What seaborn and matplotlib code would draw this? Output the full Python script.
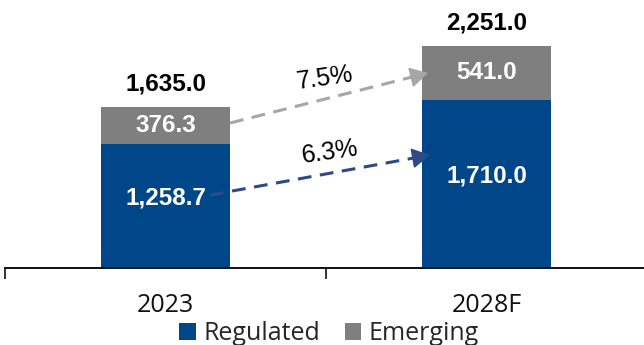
import matplotlib
matplotlib.use("Agg")
import matplotlib.pyplot as plt
import seaborn as sns
import pandas as pd
from matplotlib.patches import Patch

# Market size by segment
years = ["2023", "2028F"]
regulated = [1258.7, 1710.0]
emerging = [376.3, 541.0]
totals = [1635.0, 2251.0]
cagr_labels = ["7.5%", "6.3%"]
legend_labels = ["Regulated", "Emerging"]

BLUE = "#00478A"
GREY = "#7F7F7F"
GREY_ARROW = "#A6A6A6"
BLUE_ARROW = "#2E4A86"

sns.set_style("white")
plt.rcParams["font.family"] = ["Liberation Sans", "DejaVu Sans"]

df = pd.DataFrame({"year": years, "regulated": regulated,
                   "emerging": emerging, "total": totals})

fig = plt.figure(figsize=(6.44, 3.45), dpi=100)
ax = fig.add_axes([5 / 644, 77 / 345, 642 / 644, 268 / 345])

# Stacked bars: full total in grey, regulated share in blue on top of it
sns.barplot(data=df, x="year", y="total", order=years, color=GREY,
            width=0.40, saturation=1, linewidth=0, edgecolor="none", ax=ax)
sns.barplot(data=df, x="year", y="regulated", order=years, color=BLUE,
            width=0.40, saturation=1, linewidth=0, edgecolor="none", ax=ax)

ax.set_xlim(-0.5, 1.5)
ax.set_ylim(0, 2721)
ax.set_xlabel("")
ax.set_ylabel("")
ax.set_yticks([])
for side in ["left", "right", "top"]:
    ax.spines[side].set_visible(False)
ax.spines["bottom"].set_linewidth(1.4)
ax.spines["bottom"].set_color("#111111")

ax.set_xticks(range(len(years)))
ax.set_xticklabels(years, fontfamily="Open Sans", fontsize=18, color="#111111")
ax.tick_params(axis="x", which="major", bottom=False, length=0, pad=18)
ax.set_xticks([-0.5, 0.5, 1.5], minor=True)
ax.tick_params(axis="x", which="minor", bottom=True, length=8, width=1.2,
               color="#111111", direction="out")

# Value labels
for i in range(len(years)):
    ax.text(i, totals[i] + 120, f"{totals[i]:,.1f}", ha="center", va="bottom",
            fontsize=17.5, fontweight="bold", color="black")
    ax.text(i, regulated[i] + emerging[i] / 2, f"{emerging[i]:,.1f}",
            ha="center", va="center", fontsize=17.5, fontweight="bold",
            color="white")
    ax.text(i, regulated[i] / 2 + 80, f"{regulated[i]:,.1f}",
            ha="center", va="center", fontsize=17.5, fontweight="bold",
            color="white")


def dashed_arrow(x0, y0, x1, y1, color):
    frac = 0.93
    xm = x0 + (x1 - x0) * frac
    ym = y0 + (y1 - y0) * frac
    ax.plot([x0, xm], [y0, ym], color=color, lw=2.2,
            linestyle=(0, (4.5, 2.8)), solid_capstyle="butt")
    ax.annotate("", xy=(x1, y1), xytext=(xm, ym),
                arrowprops=dict(arrowstyle="-|>,head_length=0.8,head_width=0.45",
                                color=color, lw=1.2, mutation_scale=14,
                                shrinkA=0, shrinkB=0))


# Growth arrows between the two years
dashed_arrow(0.201, 1472, 0.818, 1980, GREY_ARROW)
dashed_arrow(0.139, 741, 0.824, 1147, BLUE_ARROW)

ax.text(0.497, 1930, cagr_labels[0], ha="center", va="center", fontsize=18,
        rotation=8, color="black")
ax.text(0.512, 1175, cagr_labels[1], ha="center", va="center", fontsize=18,
        rotation=8, color="black")

handles = [Patch(facecolor=BLUE, edgecolor="none"),
           Patch(facecolor=GREY, edgecolor="none")]
fig.legend(handles, legend_labels, loc="center", ncol=2,
           bbox_to_anchor=(329 / 644, 1 - 334 / 345), frameon=False,
           prop={"family": "Open Sans", "size": 18},
           handlelength=0.65, handleheight=0.65, handletextpad=0.3,
           columnspacing=1.0, borderpad=0, borderaxespad=0)

fig.savefig("out.png", dpi=100)
